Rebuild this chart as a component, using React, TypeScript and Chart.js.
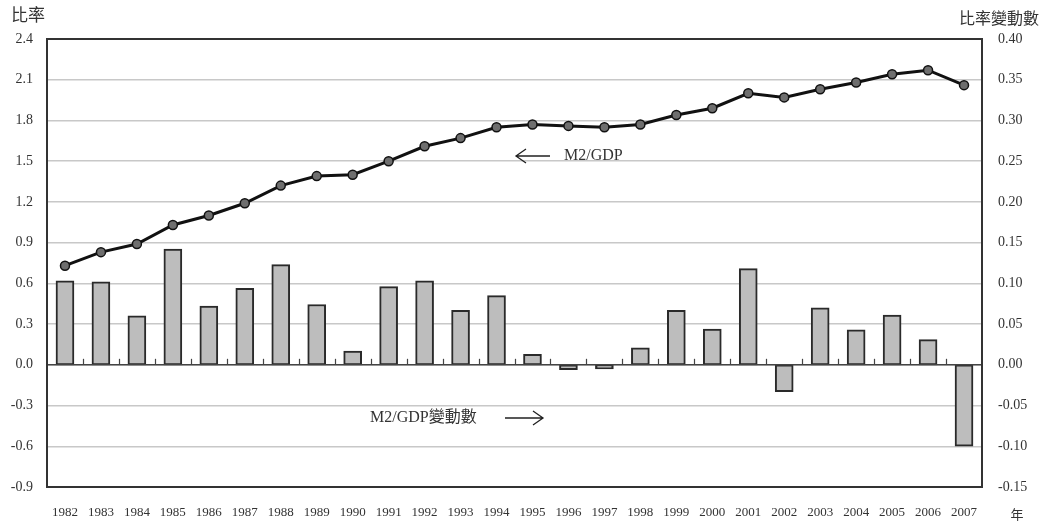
import React, { useEffect, useRef } from "react";
import { Chart, registerables } from "chart.js";

Chart.register(...registerables);

const years = ["1982","1983","1984","1985","1986","1987","1988","1989","1990","1991","1992","1993","1994","1995","1996","1997","1998","1999","2000","2001","2002","2003","2004","2005","2006","2007"];
const m2gdp = [0.73,0.83,0.89,1.03,1.10,1.19,1.32,1.39,1.40,1.50,1.61,1.67,1.75,1.77,1.76,1.75,1.77,1.84,1.89,2.00,1.97,2.03,2.08,2.14,2.17,2.06];
const m2gdpChange = [0.103,0.102,0.060,0.142,0.072,0.094,0.123,0.074,0.017,0.096,0.103,0.067,0.085,0.013,-0.006,-0.005,0.021,0.067,0.044,0.118,-0.033,0.070,0.043,0.061,0.031,-0.100];
const leftTicks = [-0.9,-0.6,-0.3,0,0.3,0.6,0.9,1.2,1.5,1.8,2.1,2.4];
const rightTicks = [-0.15,-0.1,-0.05,0,0.05,0.1,0.15,0.2,0.25,0.3,0.35,0.4];

const SERIF = "'Liberation Serif', 'Noto Sans CJK TC', serif";
const CJK = "'Noto Sans CJK TC', 'Liberation Serif', serif";

const decorPlugin = {
  id: "decor",
  afterDatasetsDraw(chart: any) {
    const { ctx, chartArea } = chart;
    const { left, right } = chartArea;
    const y0 = chart.scales.y.getPixelForValue(0);
    ctx.save();
    ctx.strokeStyle = "#444";
    ctx.lineWidth = 1.5;
    ctx.beginPath();
    ctx.moveTo(left, y0);
    ctx.lineTo(right, y0);
    ctx.stroke();
    const n = years.length;
    const w = (right - left) / n;
    ctx.lineWidth = 1.2;
    for (let i = 1; i < n; i++) {
      const x = Math.round(left + i * w) + 0.5;
      ctx.beginPath();
      ctx.moveTo(x, y0);
      ctx.lineTo(x, y0 - 6);
      ctx.stroke();
    }
    ctx.restore();
  },
  afterDraw(chart: any) {
    const { ctx, chartArea } = chart;
    const { left, right, top, bottom } = chartArea;
    ctx.save();
    ctx.strokeStyle = "#333";
    ctx.lineWidth = 2;
    ctx.strokeRect(left, top, right - left, bottom - top);
    ctx.fillStyle = "#333";
    ctx.textBaseline = "middle";
    ctx.font = `17px ${CJK}`;
    ctx.textAlign = "left";
    ctx.fillText("比率", 11, 15);
    ctx.font = `16px ${CJK}`;
    ctx.textAlign = "right";
    ctx.fillText("比率變動數", 1039, 18);
    ctx.font = `13px ${CJK}`;
    ctx.textAlign = "center";
    ctx.fillText("年", 1017, 514);
    ctx.font = `16px ${SERIF}`;
    ctx.textAlign = "left";
    ctx.fillText("M2/GDP", 564, 156);
    ctx.fillText("M2/GDP變動數", 370, 418);
    ctx.strokeStyle = "#222";
    ctx.lineWidth = 1.3;
    ctx.beginPath();
    ctx.moveTo(550, 156);
    ctx.lineTo(516, 156);
    ctx.moveTo(526, 149);
    ctx.lineTo(516, 156);
    ctx.lineTo(526, 163);
    ctx.stroke();
    ctx.beginPath();
    ctx.moveTo(505, 418);
    ctx.lineTo(543, 418);
    ctx.moveTo(533, 411);
    ctx.lineTo(543, 418);
    ctx.lineTo(533, 425);
    ctx.stroke();
    ctx.restore();
  },
};

export default function App() {
  const ref = useRef<HTMLCanvasElement>(null);
  useEffect(() => {
    const chart = new Chart(ref.current!, {
      type: "bar",
      data: {
        labels: years,
        datasets: [
          {
            type: "line",
            data: m2gdp,
            yAxisID: "y",
            borderColor: "#111",
            borderWidth: 3,
            pointRadius: 4.5,
            pointBackgroundColor: "#6e6e6e",
            pointBorderColor: "#111",
            pointBorderWidth: 1.5,
            tension: 0,
            order: 0,
          } as any,
          {
            type: "bar",
            data: m2gdpChange,
            yAxisID: "y1",
            backgroundColor: "#bdbdbd",
            borderColor: "#2a2a2a",
            borderWidth: 2,
            borderSkipped: false,
            barThickness: 18,
            order: 1,
          },
        ],
      },
      options: {
        animation: false,
        responsive: true,
        maintainAspectRatio: false,
        layout: { padding: { top: 39, left: 0, right: 0, bottom: 0 } },
        plugins: { legend: { display: false }, tooltip: { enabled: false } },
        scales: {
          x: {
            grid: { display: false, drawTicks: false },
            border: { display: false },
            ticks: { color: "#333", font: { family: SERIF, size: 13 }, padding: 18, maxRotation: 0, autoSkip: false },
            afterFit: (s: any) => { s.height = 34; },
          },
          y: {
            position: "left",
            min: -0.9,
            max: 2.4,
            grid: { color: "#c8c8c8", lineWidth: 1.5, drawTicks: false },
            border: { display: false },
            afterBuildTicks: (s: any) => { s.ticks = leftTicks.map((v) => ({ value: v })); },
            ticks: {
              color: "#333",
              font: { family: SERIF, size: 14 },
              padding: 14,
              callback: (v: any) => (Math.abs(Number(v)) < 1e-9 ? "0.0" : Number(v).toFixed(1)),
            },
            afterFit: (s: any) => { s.width = 47; },
          },
          y1: {
            position: "right",
            min: -0.15,
            max: 0.4,
            grid: { display: false, drawTicks: false },
            border: { display: false },
            afterBuildTicks: (s: any) => { s.ticks = rightTicks.map((v) => ({ value: v })); },
            ticks: {
              color: "#333",
              font: { family: SERIF, size: 14 },
              padding: 16,
              callback: (v: any) => (Math.abs(Number(v)) < 1e-9 ? "0.00" : Number(v).toFixed(2)),
            },
            afterFit: (s: any) => { s.width = 64; },
          },
        },
      },
      plugins: [decorPlugin],
    });
    return () => chart.destroy();
  }, []);
  return (
    <div style={{ position: "fixed", left: 0, top: 0, width: 1046, height: 521, background: "#fff" }}>
      <canvas ref={ref} />
    </div>
  );
}
